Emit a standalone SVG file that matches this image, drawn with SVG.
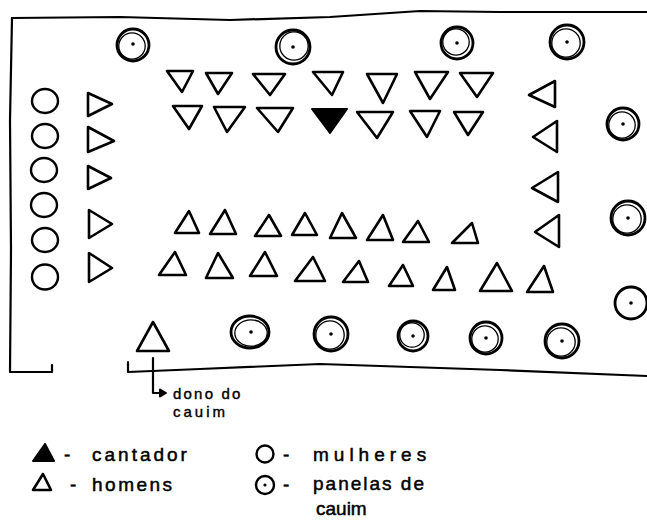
<svg xmlns="http://www.w3.org/2000/svg" width="647" height="522" viewBox="0 0 647 522">
<style>
.ln{fill:none;stroke:#000;stroke-width:2.2;stroke-linejoin:round;stroke-linecap:round}
.tri{fill:#fff;stroke:#000;stroke-width:2.6;stroke-linejoin:round}
.fill{fill:#000;stroke:#000;stroke-width:2;stroke-linejoin:round}
.wom{fill:#fff;stroke:#000;stroke-width:2.4}
.po{fill:#fff;stroke:#000;stroke-width:2.8}
.pi{fill:none;stroke:#000;stroke-width:1.3}
.dot{fill:#000}
.t{font-family:"Liberation Sans","DejaVu Sans",sans-serif;font-size:19px;fill:#000;stroke:#000;stroke-width:0.5}
.s{font-family:"Liberation Sans","DejaVu Sans",sans-serif;font-size:15px;fill:#000;stroke:#000;stroke-width:0.4}
</style>
<rect width="647" height="522" fill="#fff"/>
<g id="border">
<path class="ln" d="M12,18 L120,17 L230,20 L330,17 L420,11 L500,12 L647,12"/>
<path class="ln" d="M12,18 L10,120 L11,250 L10,372 L52,372 L52,365"/>
<path class="ln" d="M128,362 L128,372 L200,369 L320,364 L500,370 L647,376"/>
</g>
<g id="connectors">
<path class="ln" d="M153,358 L153,393 L161,393"/>
<polygon class="fill" points="166,393 160,389.5 160,396.5"/>
</g>
<g id="women">
<ellipse class="wom" cx="45" cy="101" rx="13" ry="12"/>
<ellipse class="wom" cx="45" cy="136" rx="13" ry="12"/>
<ellipse class="wom" cx="44" cy="170" rx="13" ry="12"/>
<ellipse class="wom" cx="44" cy="205" rx="13" ry="12"/>
<ellipse class="wom" cx="45" cy="240" rx="13" ry="12"/>
<ellipse class="wom" cx="45" cy="277" rx="13" ry="12.5"/>
</g>
<g id="men-left">
<polygon class="tri" points="88,93 88,116 112,104"/>
<polygon class="tri" points="88,127 88,152 114,141"/>
<polygon class="tri" points="88,166 88,189 111,178"/>
<polygon class="tri" points="89,210 89,238 112,224"/>
<polygon class="tri" points="89,253 89,282 112,268"/>
</g>
<g id="men-top">
<polygon class="tri" points="167,71 193,71 182,92"/>
<polygon class="tri" points="206,73 232,73 218,94"/>
<polygon class="tri" points="253,74 285,74 270,95"/>
<polygon class="tri" points="313,72 343,72 332,95"/>
<polygon class="tri" points="367,74 397,74 383,103"/>
<polygon class="tri" points="415,72 448,72 430,99"/>
<polygon class="tri" points="460,73 493,73 477,97"/>
<polygon class="tri" points="173,106 202,106 189,129"/>
<polygon class="tri" points="214,107 245,107 227,132"/>
<polygon class="tri" points="257,108 293,108 278,132"/>
<polygon class="tri" points="357,112 393,112 377,138"/>
<polygon class="tri" points="410,111 440,111 427,137"/>
<polygon class="tri" points="454,112 483,112 468,135"/>
</g>
<g id="cantador">
<polygon class="fill" points="312,109 347,109 330,133"/>
</g>
<g id="men-right">
<polygon class="tri" points="555,81 555,107 529,95"/>
<polygon class="tri" points="557,121 557,152 533,137"/>
<polygon class="tri" points="558,172 558,202 532,188"/>
<polygon class="tri" points="559,215 559,247 535,232"/>
</g>
<g id="men-bottom">
<polygon class="tri" points="175,233 199,233 189,211"/>
<polygon class="tri" points="210,234 236,234 225,210"/>
<polygon class="tri" points="255,236 281,236 269,215"/>
<polygon class="tri" points="292,235 317,235 305,213"/>
<polygon class="tri" points="330,238 356,238 342,213"/>
<polygon class="tri" points="367,240 393,240 383,215"/>
<polygon class="tri" points="403,242 429,242 418,221"/>
<polygon class="tri" points="452,243 478,243 472,223"/>
<polygon class="tri" points="159,275 186,275 175,252"/>
<polygon class="tri" points="206,278 233,278 218,253"/>
<polygon class="tri" points="250,276 277,276 265,252"/>
<polygon class="tri" points="295,281 325,281 313,257"/>
<polygon class="tri" points="343,282 368,282 359,261"/>
<polygon class="tri" points="389,286 413,286 403,265"/>
<polygon class="tri" points="433,290 455,290 447,267"/>
<polygon class="tri" points="480,291 512,291 497,263"/>
<polygon class="tri" points="527,292 553,292 544,266"/>
</g>
<g id="dono-do-cauim">
<polygon class="tri" points="137,351 169,351 153,322"/>
</g>
<g id="panelas">
<circle class="po" cx="133" cy="45" r="16"/><circle class="pi" cx="132" cy="46" r="13.2"/><circle class="dot" cx="133" cy="44" r="1.8"/>
<circle class="po" cx="293" cy="47" r="17"/><circle class="pi" cx="294" cy="46" r="14.2"/><circle class="dot" cx="293" cy="47" r="1.8"/>
<circle class="po" cx="457" cy="43" r="16"/><circle class="pi" cx="456" cy="42" r="13.2"/><circle class="dot" cx="457" cy="43" r="1.8"/>
<circle class="po" cx="567" cy="42" r="17"/><circle class="pi" cx="566" cy="43" r="14.2"/><circle class="dot" cx="567" cy="42" r="1.8"/>
<circle class="po" cx="623" cy="124" r="16"/><circle class="pi" cx="622" cy="125" r="13.2"/><circle class="dot" cx="623" cy="124" r="1.8"/>
<circle class="po" cx="628" cy="218" r="17"/><circle class="pi" cx="627" cy="219" r="14.2"/><circle class="dot" cx="628" cy="218" r="1.8"/>
<circle class="po" cx="631" cy="303" r="16"/><circle class="dot" cx="631" cy="303" r="1.8"/>
<ellipse class="po" cx="250" cy="332" rx="19" ry="16"/><ellipse class="pi" cx="251" cy="333" rx="16.2" ry="13.2"/><circle class="dot" cx="251" cy="332" r="1.8"/>
<circle class="po" cx="331" cy="334" r="17"/><circle class="pi" cx="330" cy="335" r="14.2"/><circle class="dot" cx="331" cy="334" r="1.8"/>
<circle class="po" cx="413" cy="336" r="15"/><circle class="pi" cx="412" cy="335" r="12.2"/><circle class="dot" cx="413" cy="336" r="1.8"/>
<circle class="po" cx="486" cy="338" r="16"/><circle class="pi" cx="485" cy="339" r="13.2"/><circle class="dot" cx="486" cy="338" r="1.8"/>
<circle class="po" cx="562" cy="341" r="17"/><circle class="pi" cx="561" cy="342" r="14.2"/><circle class="dot" cx="562" cy="341" r="1.8"/>
</g>
<g id="label-dono">
<text class="s" x="173" y="399" letter-spacing="2.2">dono do</text>
<text class="s" x="173" y="417" letter-spacing="3">cauim</text>
</g>
<g id="legend">
<polygon class="fill" points="33,461 54,461 45,444"/>
<text class="t"><tspan x="64" y="461">-</tspan><tspan x="92" y="461" letter-spacing="3">cantador</tspan></text>
<polygon class="tri" points="33,490 51,490 43,474"/>
<text class="t"><tspan x="70" y="491">-</tspan><tspan x="92" y="491" letter-spacing="2.5">homens</tspan></text>
<circle class="wom" cx="265" cy="454" r="8.5"/>
<text class="t"><tspan x="283" y="461">-</tspan><tspan x="313" y="461" letter-spacing="5">mulheres</tspan></text>
<circle class="wom" cx="265" cy="485" r="9"/><circle class="dot" cx="265" cy="485" r="1.6"/>
<text class="t"><tspan x="283" y="491">-</tspan><tspan x="313" y="490" letter-spacing="2">panelas de</tspan></text>
<text class="t" x="316" y="515" font-size="18.5">cauim</text>
</g>
</svg>
